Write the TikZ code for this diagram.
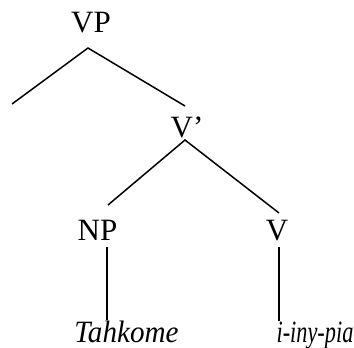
\documentclass[tikz,border=0pt]{standalone}
\usepackage{fontspec}
\usepackage{graphicx}
\setmainfont{Liberation Serif}
\begin{document}
\begin{tikzpicture}[x=1pt,y=-1pt,
  lab/.style={anchor=base,inner sep=0pt,font=\fontsize{31}{33}\selectfont},
  word/.style={anchor=base,inner sep=0pt,font=\fontsize{31}{33}\selectfont\itshape},
  branch/.style={line width=1.5pt}]
\useasboundingbox (0,0) rectangle (354,348);
\node[lab] (VP) at (91,32.5) {VP};
\node[lab] (Vbar) at (187,137) {V’};
\node[lab] (NP) at (97.5,240.5) {NP};
\node[lab] (V) at (277,240.5) {V};
\node[word] (Tah) at (126.5,342) {\scalebox{0.94}[1]{Tahkome}};
\node[word] (iny) at (315,342) {\scalebox{0.72}[1]{i-iny-pia}};
\coordinate (vpTop) at (88,48);
\coordinate (spec) at (12,104);
\coordinate (vbarIn) at (185,106);
\coordinate (vbarTop) at (185,140);
\coordinate (npIn) at (108,205);
\coordinate (vIn) at (279,213);
\coordinate (npOut) at (107,247);
\coordinate (tahIn) at (107,320);
\coordinate (vOut) at (279,247);
\coordinate (inyIn) at (279,321);
\draw[branch] (spec) -- (vpTop) -- (vbarIn);
\draw[branch] (npIn) -- (vbarTop) -- (vIn);
\draw[branch] (npOut) -- (tahIn);
\draw[branch] (vOut) -- (inyIn);
\end{tikzpicture}
\end{document}
